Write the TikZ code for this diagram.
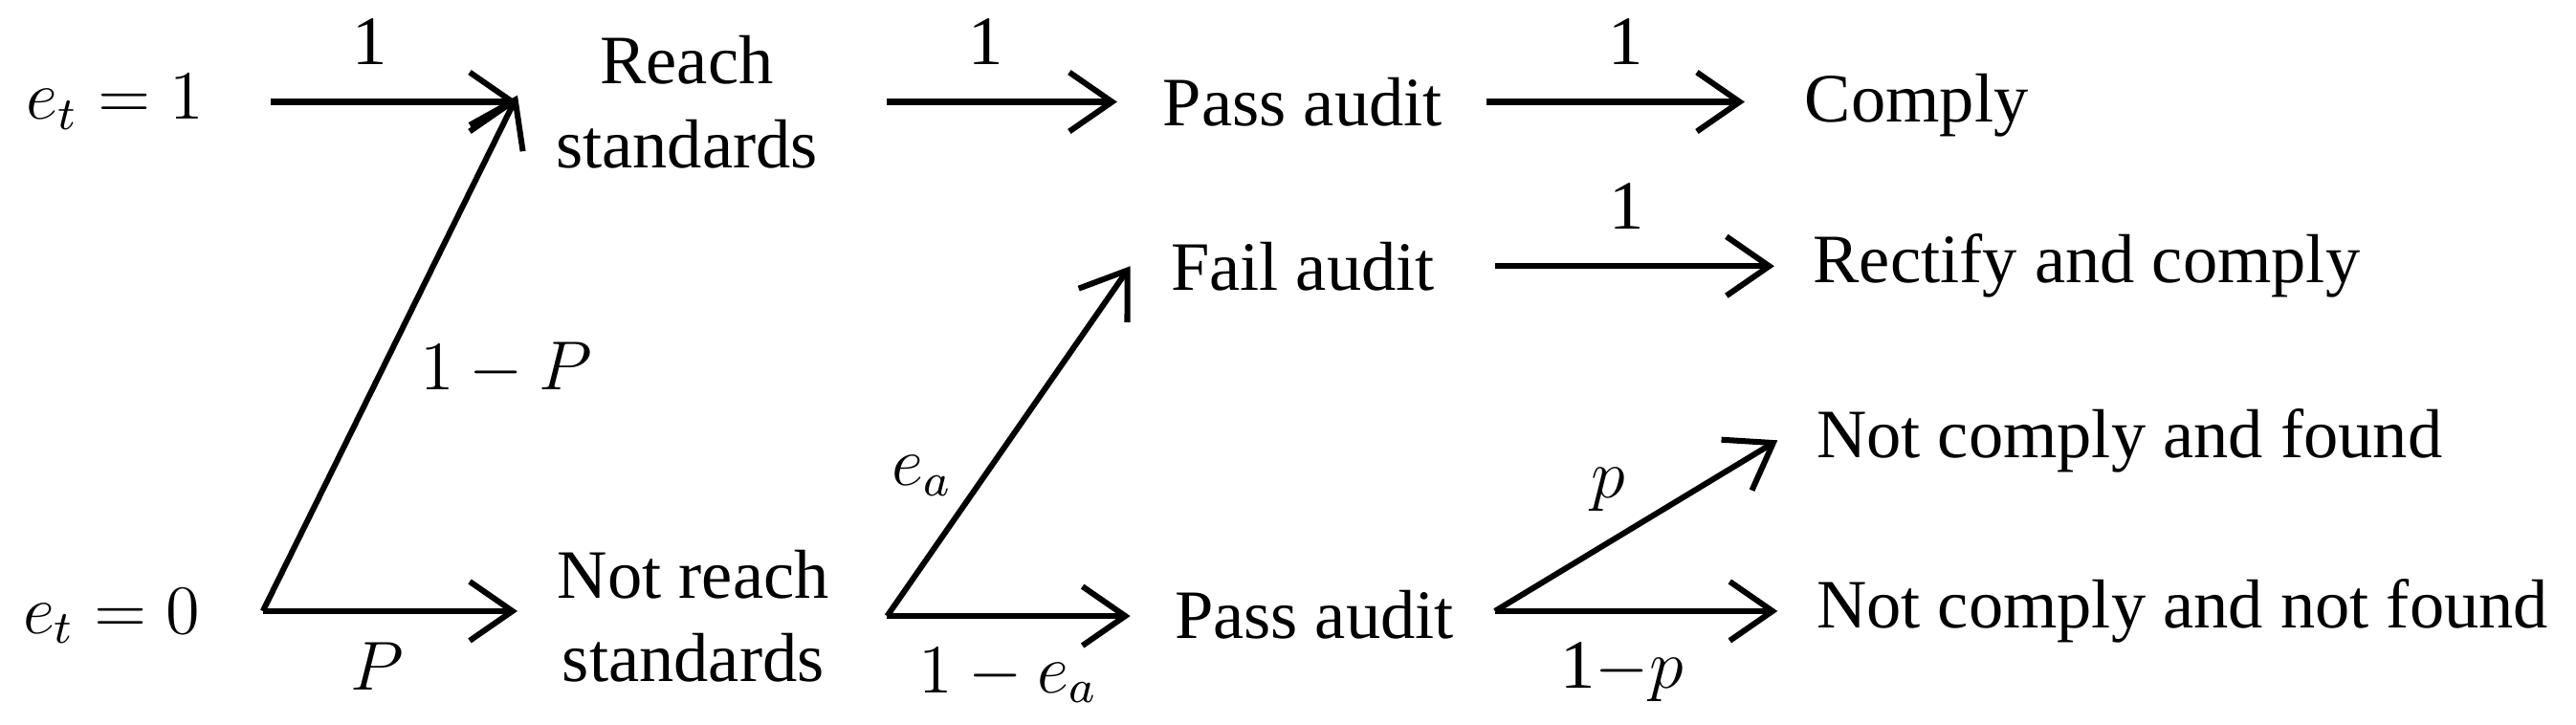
\documentclass[tikz,border=0pt]{standalone}
\usepackage{fontspec}
\setmainfont{Liberation Serif}
\usetikzlibrary{arrows.meta}
\begin{document}
\begin{tikzpicture}[x=0.01cm,y=-0.01cm,
  txt/.style={font=\fontsize{12}{14.5}\selectfont, inner sep=0pt},
  lbl/.style={font=\fontsize{12}{14}\selectfont, inner sep=0pt},
  arr/.style={line width=1pt,-{Straight Barb[length=2.6mm,width=3.6mm,line width=1pt]}}]
\useasboundingbox (0,0) rectangle (1568,441);
\node[txt] (e1) at (70,62) {$e_t=1$};
\node[txt] (e0) at (68,375) {$e_t=0$};
\node[txt,align=center] (rs) at (418,62) {Reach\\standards};
\node[txt,align=center] (nrs) at (422,375) {Not reach\\standards};
\node[txt] (pa1) at (793,62) {Pass audit};
\node[txt] (fa) at (793,162) {Fail audit};
\node[txt] (pa2) at (800,374) {Pass audit};
\node[txt,anchor=west] (c) at (1098,64) {Comply};
\node[txt,anchor=west] (rc) at (1103,162) {Rectify and comply};
\node[txt,anchor=west] (ncf) at (1105,268) {Not comply and found};
\node[txt,anchor=west] (ncnf) at (1105,372) {Not comply and not found};
\coordinate (a1s) at (165,62); \coordinate (a1e) at (315,62);
\coordinate (a0s) at (160,372); \coordinate (a0e) at (315,372);
\coordinate (aue) at (315,58);
\coordinate (b1s) at (540,62); \coordinate (b1e) at (680,62);
\coordinate (c1s) at (905,62); \coordinate (c1e) at (1062,62);
\coordinate (d1s) at (910,162); \coordinate (d1e) at (1080,162);
\coordinate (ns) at (540,375); \coordinate (nfe) at (688,162); \coordinate (npe) at (688,375);
\coordinate (ps) at (910,372); \coordinate (pfe) at (1082,268); \coordinate (pne) at (1082,372);
\draw[arr] (a1s) -- node[lbl,above=6pt,pos=0.4] {1} (a1e);
\draw[arr] (a0s) -- node[lbl,below=5pt,pos=0.45] {$P$} (a0e);
\draw[arr] (a0s) -- node[lbl,pos=0.47,right=6pt] {$1-P$} (aue);
\draw[arr] (b1s) -- node[lbl,above=6pt,pos=0.43] {1} (b1e);
\draw[arr] (c1s) -- node[lbl,above=6pt,pos=0.54] {1} (c1e);
\draw[arr] (d1s) -- node[lbl,above=6pt,pos=0.47] {1} (d1e);
\draw[arr] (ns) -- node[lbl,pos=0.4,left=5pt] {$e_a$} (nfe);
\draw[arr] (ns) -- node[lbl,below=5pt,pos=0.5] {$1-e_a$} (npe);
\draw[arr] (ps) -- node[lbl,pos=0.4,above=5pt] {$p$} (pfe);
\draw[arr] (ps) -- node[lbl,below=5pt,pos=0.45] {1$-p$} (pne);
\end{tikzpicture}
\end{document}
